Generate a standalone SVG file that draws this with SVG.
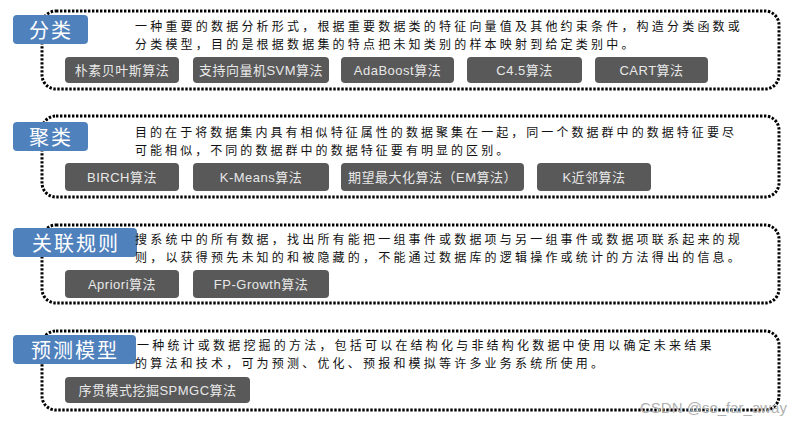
<svg xmlns="http://www.w3.org/2000/svg" width="805" height="425" viewBox="0 0 805 425">
<style>
.frame{fill:#fff;stroke:#000;stroke-width:3;stroke-dasharray:2.4 1.6}
.lbl{fill:#4f81bd}
.lt{fill:#fff;font-family:"Noto Sans CJK SC",sans-serif;font-size:20px;letter-spacing:2px;text-anchor:middle;dominant-baseline:central}
.desc{fill:#111;font-family:"Noto Sans CJK SC",sans-serif;font-size:12px;letter-spacing:3.2px}
.btn{fill:#595959}
.bt{fill:#e8e8e8;font-family:"Liberation Sans","Noto Sans CJK SC",sans-serif;font-size:13px;letter-spacing:0.5px;text-anchor:middle;dominant-baseline:central}
.wm{fill:#b0b0b0;font-family:"Liberation Sans",sans-serif;font-size:15px}
</style>
<rect width="805" height="425" fill="#fff"/>

<g id="classification">
<rect class="frame" x="42" y="11" width="737" height="78" rx="14"/>
<rect class="lbl" x="13" y="15" width="75" height="29" rx="4"/>
<text class="lt" x="51" y="29.5">分类</text>
<text class="desc" x="135" y="31">一种重要的数据分析形式，根据重要数据类的特征向量值及其他约束条件，构造分类函数或</text>
<text class="desc" x="135" y="49">分类模型，目的是根据数据集的特点把未知类别的样本映射到给定类别中。</text>
<rect class="btn" x="65" y="57" width="114" height="26" rx="4"/><text class="bt" x="122" y="70">朴素贝叶斯算法</text>
<rect class="btn" x="193" y="57" width="136" height="26" rx="4"/><text class="bt" x="261" y="70">支持向量机SVM算法</text>
<rect class="btn" x="341" y="57" width="113" height="26" rx="4"/><text class="bt" x="397.5" y="70">AdaBoost算法</text>
<rect class="btn" x="467" y="57" width="115" height="26" rx="4"/><text class="bt" x="524.5" y="70">C4.5算法</text>
<rect class="btn" x="595" y="57" width="113" height="26" rx="4"/><text class="bt" x="651.5" y="70">CART算法</text>
</g>

<g id="clustering">
<rect class="frame" x="42" y="116" width="737" height="81" rx="14"/>
<rect class="lbl" x="13" y="122" width="75" height="29" rx="4"/>
<text class="lt" x="51" y="136.5">聚类</text>
<text class="desc" x="135" y="137" style="letter-spacing:3.05px">目的在于将数据集内具有相似特征属性的数据聚集在一起，同一个数据群中的数据特征要尽</text>
<text class="desc" x="135" y="155" style="letter-spacing:3.05px">可能相似，不同的数据群中的数据特征要有明显的区别。</text>
<rect class="btn" x="65" y="163" width="114" height="28" rx="4"/><text class="bt" x="122" y="177">BIRCH算法</text>
<rect class="btn" x="193" y="163" width="136" height="28" rx="4"/><text class="bt" x="261" y="177">K-Means算法</text>
<rect class="btn" x="341" y="163" width="183" height="28" rx="4"/><text class="bt" x="432.5" y="177">期望最大化算法（EM算法）</text>
<rect class="btn" x="537" y="163" width="114" height="28" rx="4"/><text class="bt" x="594" y="177">K近邻算法</text>
</g>

<g id="association">
<rect class="frame" x="42" y="225" width="737" height="78" rx="14"/>
<rect class="lbl" x="13" y="228" width="124" height="29" rx="4"/>
<text class="lt" x="76" y="242.5">关联规则</text>
<text class="desc" x="135" y="244">搜系统中的所有数据，找出所有能把一组事件或数据项与另一组事件或数据项联系起来的规</text>
<text class="desc" x="135" y="262">则，以获得预先未知的和被隐藏的，不能通过数据库的逻辑操作或统计的方法得出的信息。</text>
<rect class="btn" x="65" y="270" width="114" height="28" rx="4"/><text class="bt" x="122" y="284">Apriori算法</text>
<rect class="btn" x="193" y="270" width="136" height="28" rx="4"/><text class="bt" x="261" y="284">FP-Growth算法</text>
</g>

<g id="prediction">
<rect class="frame" x="42" y="331" width="737" height="79" rx="14"/>
<rect class="lbl" x="13" y="335" width="123" height="29" rx="4"/>
<text class="lt" x="75" y="349.5">预测模型</text>
<text class="desc" x="137" y="350">一种统计或数据挖掘的方法，包括可以在结构化与非结构化数据中使用以确定未来结果</text>
<text class="desc" x="135" y="368">的算法和技术，可为预测、优化、预报和模拟等许多业务系统所使用。</text>
<rect class="btn" x="65" y="377" width="185" height="26" rx="4"/><text class="bt" x="157.5" y="390">序贯模式挖掘SPMGC算法</text>
</g>

<text class="wm" x="640" y="413">CSDN @so_far_away</text>
</svg>
